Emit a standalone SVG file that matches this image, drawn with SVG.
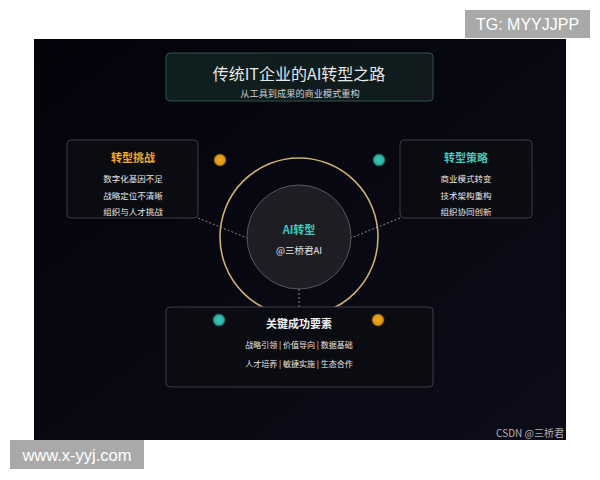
<svg xmlns="http://www.w3.org/2000/svg" width="600" height="480" viewBox="0 0 600 480">
  <defs>
    <linearGradient id="bg" x1="0" y1="0" x2="1" y2="1">
      <stop offset="0" stop-color="#03030a"/>
      <stop offset="1" stop-color="#0d0d1a"/>
    </linearGradient>
    <linearGradient id="titleFill" x1="0" y1="0" x2="1" y2="0">
      <stop offset="0" stop-color="#0f1f1e"/>
      <stop offset="1" stop-color="#101a1c"/>
    </linearGradient>
    <radialGradient id="orangeDot">
      <stop offset="0" stop-color="#f0a820"/>
      <stop offset="0.7" stop-color="#e09a18"/>
      <stop offset="1" stop-color="#e09a18" stop-opacity="0.3"/>
    </radialGradient>
    <radialGradient id="tealDot">
      <stop offset="0" stop-color="#40c8b8"/>
      <stop offset="0.7" stop-color="#30b0a4"/>
      <stop offset="1" stop-color="#30b0a4" stop-opacity="0.3"/>
    </radialGradient>
  </defs>
  <style>
    text { font-family: "Noto Sans CJK SC", "Liberation Sans", sans-serif; text-anchor: middle; dominant-baseline: central; }
    .box { fill: #0b0b12; stroke: #3c3c46; stroke-width: 1; }
    .item { fill: #e6e6e6; font-size: 8.5px; }
    .item2 { fill: #e6e6e6; font-size: 8px; }
    .head { font-size: 11px; font-weight: bold; }
    .dash { stroke: #8a8a96; stroke-width: 1; stroke-dasharray: 2 2; fill: none; }
    .wm { fill: #a9a9a9; }
    .wmt { fill: #ffffff; font-family: "Liberation Sans", sans-serif; }
  </style>

  <rect x="0" y="0" width="600" height="480" fill="#ffffff"/>
  <rect x="34" y="39" width="532" height="401" fill="url(#bg)"/>

  <g id="connectors">
    <line class="dash" x1="198" y1="218" x2="252" y2="240"/>
    <line class="dash" x1="400" y1="218" x2="346" y2="240"/>
    <line class="dash" x1="299" y1="289" x2="299" y2="318"/>
  </g>

  <g id="outer-ring">
    <circle cx="299" cy="237" r="79" fill="none" stroke="#cdb072" stroke-width="1.6"/>
  </g>

  <g id="title">
    <rect x="166" y="53" width="267" height="48" rx="4" fill="url(#titleFill)" stroke="#34504a" stroke-width="1"/>
    <text x="299" y="73" fill="#e8e8e8" font-size="16">传统IT企业的AI转型之路</text>
    <text x="300" y="93" fill="#d0d0d0" font-size="9.2">从工具到成果的商业模式重构</text>
  </g>

  <g id="challenges">
    <rect class="box" x="67" y="140" width="131" height="78" rx="4"/>
    <text class="head" x="133" y="157" fill="#f0a830">转型挑战</text>
    <text class="item" x="133" y="178">数字化基因不足</text>
    <text class="item" x="133" y="195">战略定位不清晰</text>
    <text class="item" x="133" y="211">组织与人才挑战</text>
  </g>

  <g id="strategy">
    <rect class="box" x="400" y="140" width="132" height="78" rx="4"/>
    <text class="head" x="466" y="157" fill="#3ec8b6">转型策略</text>
    <text class="item" x="466" y="178">商业模式转变</text>
    <text class="item" x="466" y="195">技术架构重构</text>
    <text class="item" x="466" y="211">组织协同创新</text>
  </g>

  <g id="core">
    <circle cx="299" cy="237" r="52" fill="#1d1d23" stroke="#56565e" stroke-width="1"/>
    <text x="299" y="229" fill="#3ec8b6" font-size="11" font-weight="bold">AI转型</text>
    <text x="299" y="250" fill="#e6e6e6" font-size="9.5">@三桥君AI</text>
  </g>

  <g id="factors">
    <rect class="box" x="166" y="307" width="267" height="80" rx="4"/>
    <text class="head" x="299" y="323" fill="#f2f2f2">关键成功要素</text>
    <text class="item2" x="299" y="344">战略引领 | 价值导向 | 数据基础</text>
    <text class="item2" x="299" y="363">人才培养 | 敏捷实施 | 生态合作</text>
  </g>

  <g id="dots">
    <circle cx="220" cy="160" r="6.5" fill="url(#orangeDot)"/>
    <circle cx="379" cy="160" r="6.5" fill="url(#tealDot)"/>
    <circle cx="219" cy="320" r="6.5" fill="url(#tealDot)"/>
    <circle cx="378" cy="320" r="6.5" fill="url(#orangeDot)"/>
  </g>

  <text x="564" y="432" fill="#b0b0b8" font-size="10" style="text-anchor:end">CSDN @三桥君</text>

  <g id="watermark-tg">
    <rect class="wm" x="465" y="10" width="125" height="28"/>
    <text class="wmt" x="527.5" y="24" font-size="16">TG: MYYJJPP</text>
  </g>
  <g id="watermark-www">
    <rect class="wm" x="10" y="440" width="134" height="29"/>
    <text class="wmt" x="77" y="455" font-size="16.5">www.x-yyj.com</text>
  </g>
</svg>
